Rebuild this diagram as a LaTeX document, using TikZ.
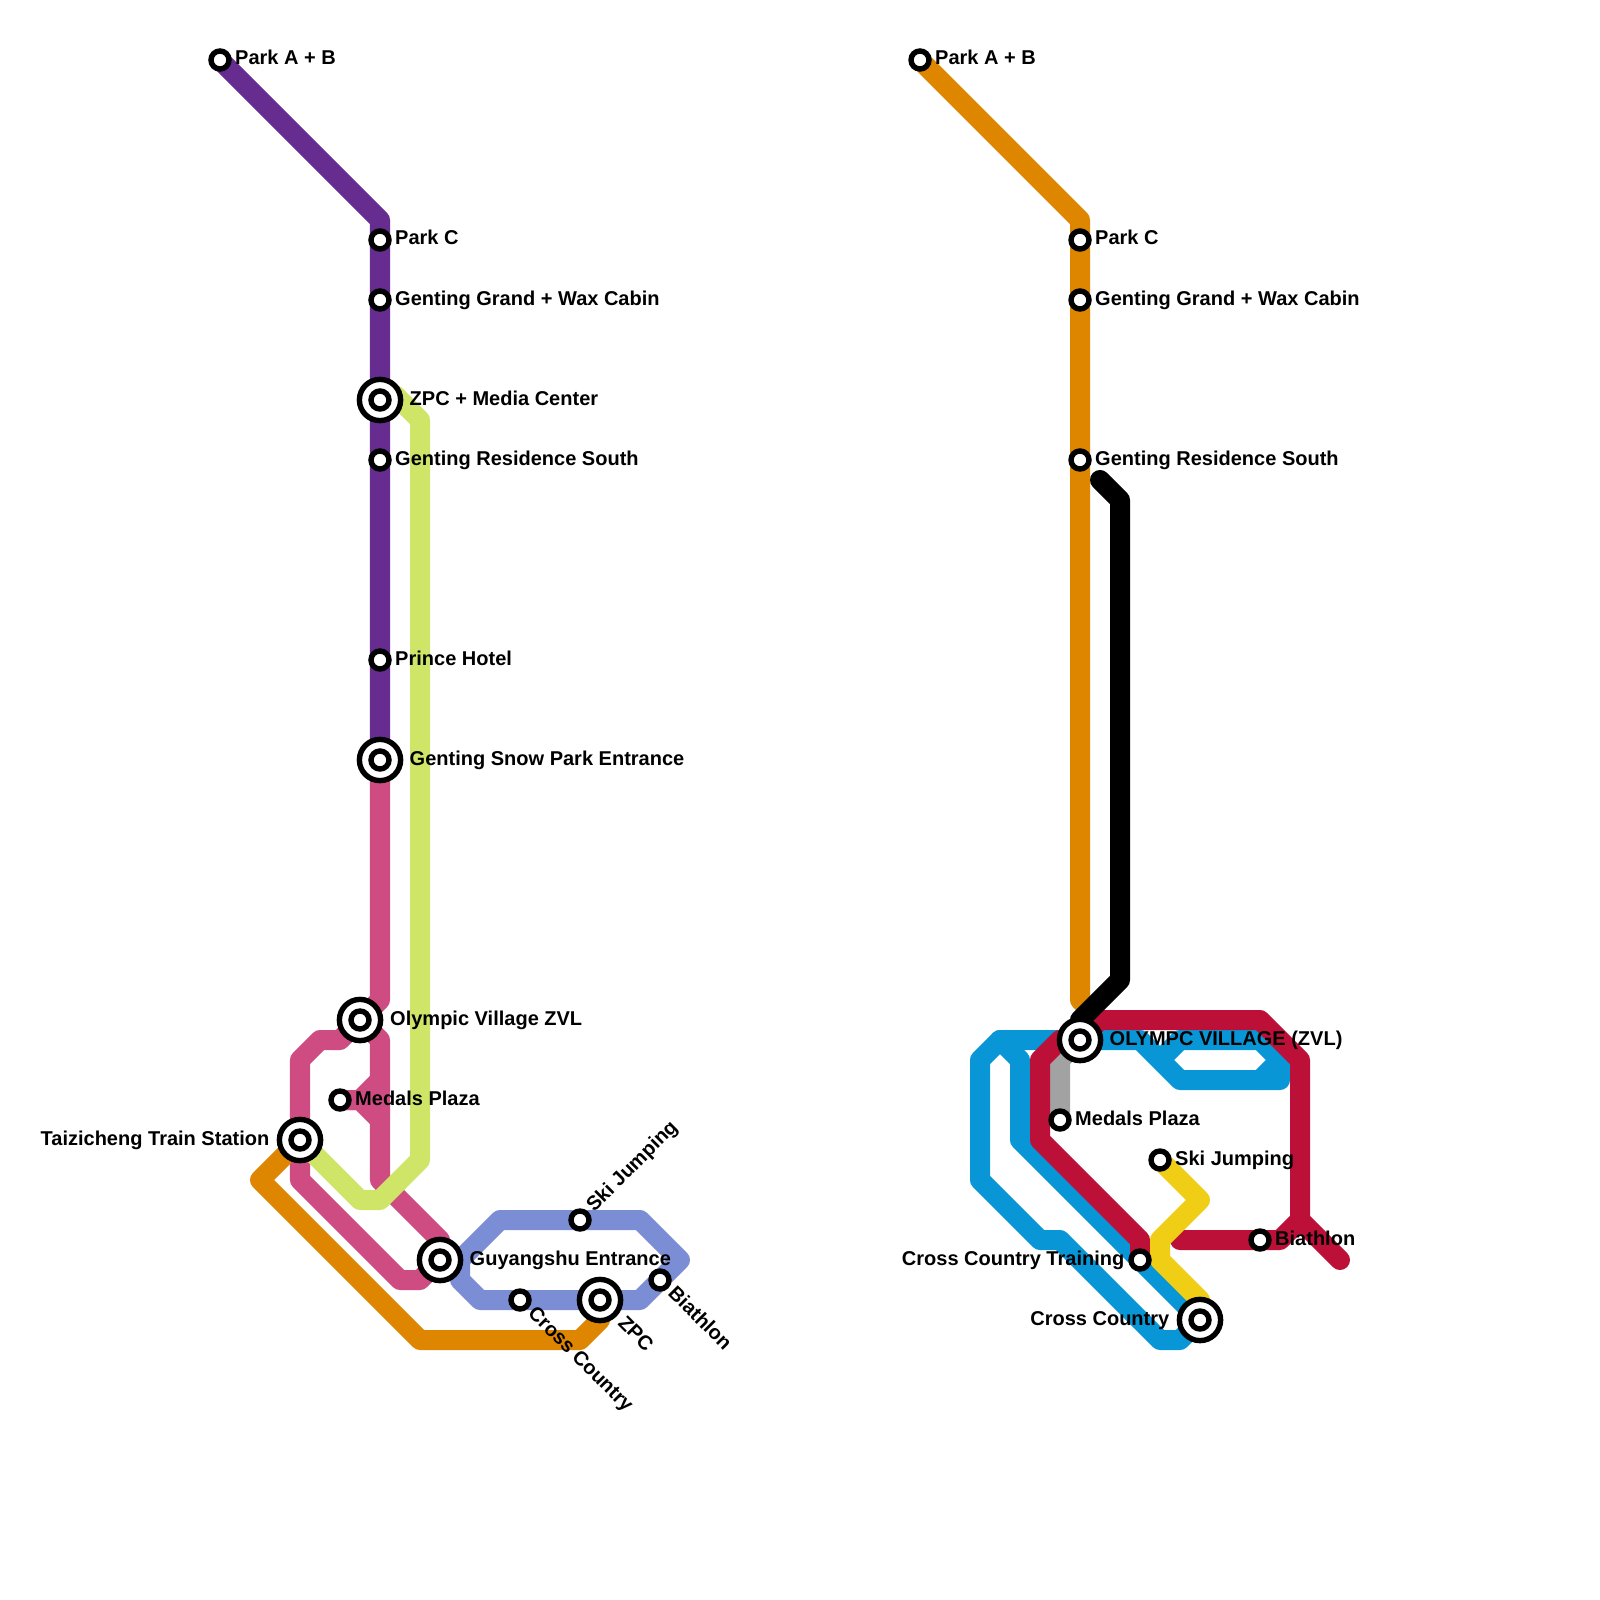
\documentclass[tikz,border=0pt]{standalone}
\usepackage{fontspec}
\setmainfont{Liberation Sans}
\usetikzlibrary{backgrounds}
\definecolor{linepurple}{HTML}{662C90}
\definecolor{linelime}{HTML}{CFE567}
\definecolor{linepink}{HTML}{CE4C82}
\definecolor{lineorange}{HTML}{DF8600}
\definecolor{lineslate}{HTML}{7B8DD4}
\definecolor{lineblue}{HTML}{0896D7}
\definecolor{linered}{HTML}{BD1038}
\definecolor{linegrey}{HTML}{A2A2A2}
\definecolor{lineyellow}{HTML}{F0CE15}
\tikzset{
	route/.style={line width=.2cm, line cap=round, line join=round},
	stop/.style={circle, draw=black, fill=white, line width=.054cm, inner sep=0pt, minimum size=.18cm},
	hub/.style={stop, minimum size=.412cm, path picture={\draw[line width=.054cm] (path picture bounding box.center) circle (.09cm);}},
	stoplabel/.style={inner sep=0pt, font=\fontsize{5.69}{7}\selectfont\bfseries, anchor=base west},
	stoplabelleft/.style={stoplabel, anchor=base east}
}

\begin{document}
\begin{tikzpicture}[x=.01cm, y=-.01cm]
	\useasboundingbox (0,0) rectangle (1600,1600);
	% left map
	\node[stop] (lparkab) at (220,60) {};
	\node[stop] (lparkc) at (380,240) {};
	\node[stop] (lgrand) at (380,300) {};
	\node[hub] (lmedia) at (380,400) {};
	\node[stop] (lresidence) at (380,460) {};
	\node[stop] (lprince) at (380,660) {};
	\node[hub] (lsnowpark) at (380,760) {};
	\node[hub] (lvillage) at (360,1020) {};
	\node[stop] (lmedals) at (340,1100) {};
	\node[hub] (ltrain) at (300,1140) {};
	\node[hub] (lguyang) at (440,1260) {};
	\node[stop] (lskijump) at (580,1220) {};
	\node[stop] (lcross) at (520,1300) {};
	\node[hub] (lzpc) at (600,1300) {};
	\node[stop] (lbiathlon) at (660,1280) {};
	\coordinate (lspur) at (395,395);
	% right map
	\node[stop] (rparkab) at (920,60) {};
	\node[stop] (rparkc) at (1080,240) {};
	\node[stop] (rgrand) at (1080,300) {};
	\node[stop] (rresidence) at (1080,460) {};
	\node[hub] (rvillage) at (1080,1040) {};
	\node[stop] (rmedals) at (1060,1120) {};
	\node[stop] (rskijump) at (1160,1160) {};
	\node[stop] (rtraining) at (1140,1260) {};
	\node[hub] (rcross) at (1200,1320) {};
	\node[stop] (rbiathlon) at (1260,1240) {};
	\coordinate (rblackend) at (1100,480);
	\coordinate (rredend) at (1340,1260);

	\begin{scope}[on background layer]
		\draw[route, linepink] (lsnowpark.center) -- (380,1000) -- (lvillage.center);
		\draw[route, linepink] (lvillage.center) -- (340,1040) -- (320,1040) -- (300,1060) -- (300,1180) -- (400,1280) -- (420,1280) -- (lguyang.center);
		\draw[route, linepink] (lvillage.center) -- (380,1040) -- (380,1180) -- (440,1240) -- (lguyang.center);
		\draw[route, linepink] (lmedals.center) -- (360,1100) -- (380,1080);
		\draw[route, linepink] (lmedals.center) -- (360,1100) -- (380,1120);
		\draw[route, linelime] (lspur) -- (420,420) -- (420,1160) -- (380,1200) -- (360,1200) -- (ltrain.center);
		\draw[route, linepurple] (lparkab.center) -- (380,220) -- (lsnowpark.center);
		\draw[route, lineorange] (ltrain.center) -- (260,1180) -- (420,1340) -- (580,1340) -- (600,1320) -- (lzpc.center);
		\draw[route, lineslate] (500,1220) -- (640,1220) -- (680,1260) -- (640,1300) -- (480,1300) -- (460,1280) -- (460,1260) -- cycle;

		\draw[route, lineorange] (rparkab.center) -- (1080,220) -- (1080,1000) -- (1100,1020) -- (rvillage.center);
		\draw[route, linegrey] (rmedals.center) -- (1060,1060) -- (rvillage.center);
		\draw[route, lineblue] (rvillage.center) -- (1000,1040) -- (980,1060) -- (980,1180) -- (1040,1240) -- (1060,1240) -- (1160,1340) -- (1180,1340) -- (rcross.center);
		\draw[route, lineblue] (1000,1040) -- (1020,1060) -- (1020,1140) -- (rcross.center);
		\draw[route, lineblue] (rvillage.center) -- (1140,1040) -- (1180,1080) -- (1280,1080) -- (1280,1060) -- (1260,1040) -- (1180,1040) -- (1160,1060);
		\draw[route, lineblue] (1280,1060) -- (1260,1080);
		\draw[route, linered] (rvillage.center) -- (1060,1040) -- (1040,1060) -- (1040,1140) -- (1140,1240) -- (rtraining.center);
		\draw[route, linered] (rvillage.center) -- (1100,1020) -- (1260,1020) -- (1300,1060) -- (1300,1220) -- (rredend);
		\draw[route, linered] (1300,1220) -- (1280,1240) -- (rbiathlon.center) -- (1180,1240);
		\draw[route, lineyellow] (rskijump.center) -- (1200,1200) -- (1160,1240) -- (1160,1260) -- (1200,1300) -- (rcross.center);
		\draw[route, black] (rblackend) -- (1120,500) -- (1120,980) -- (1080,1020) -- (rvillage.center);
	\end{scope}

	% labels
	\node[stoplabel] (lparkabtext) at (234.5,65) {Park A + B};
	\node[stoplabel] (lparkctext) at (394.5,245) {Park C};
	\node[stoplabel] (lgrandtext) at (394.5,305) {Genting Grand + Wax Cabin};
	\node[stoplabel] (lmediatext) at (409,405) {ZPC + Media Center};
	\node[stoplabel] (lresidencetext) at (394.5,465) {Genting Residence South};
	\node[stoplabel] (lprincetext) at (394.5,665) {Prince Hotel};
	\node[stoplabel] (lsnowparktext) at (409,765) {Genting Snow Park Entrance};
	\node[stoplabel] (lvillagetext) at (389.5,1025) {Olympic Village ZVL};
	\node[stoplabel] (lmedalstext) at (354.5,1105) {Medals Plaza};
	\node[stoplabelleft] (ltraintext) at (270,1145) {Taizicheng Train Station};
	\node[stoplabel] (lguyangtext) at (469,1265) {Guyangshu Entrance};
	\node[stoplabel, rotate=45] (lskijumptext) at (593.8,1213.3) {Ski Jumping};
	\node[stoplabel, rotate=-45] (lcrosstext) at (526.7,1313.8) {Cross Country};
	\node[stoplabel, rotate=-45] (lzpctext) at (616.6,1323.7) {ZPC};
	\node[stoplabel, rotate=-45] (lbiathlontext) at (666.7,1293.8) {Biathlon};

	\node[stoplabel] (rparkabtext) at (934.5,65) {Park A + B};
	\node[stoplabel] (rparkctext) at (1094.5,245) {Park C};
	\node[stoplabel] (rgrandtext) at (1094.5,305) {Genting Grand + Wax Cabin};
	\node[stoplabel] (rresidencetext) at (1094.5,465) {Genting Residence South};
	\node[stoplabel] (rvillagetext) at (1109,1045) {OLYMPC VILLAGE (ZVL)};
	\node[stoplabel] (rmedalstext) at (1074.5,1125) {Medals Plaza};
	\node[stoplabel] (rskijumptext) at (1174.5,1165) {Ski Jumping};
	\node[stoplabelleft] (rtrainingtext) at (1125,1265) {Cross Country Training};
	\node[stoplabelleft] (rcrosstext) at (1170,1325) {Cross Country};
	\node[stoplabel] (rbiathlontext) at (1274.5,1245) {Biathlon};
\end{tikzpicture}
\end{document}
